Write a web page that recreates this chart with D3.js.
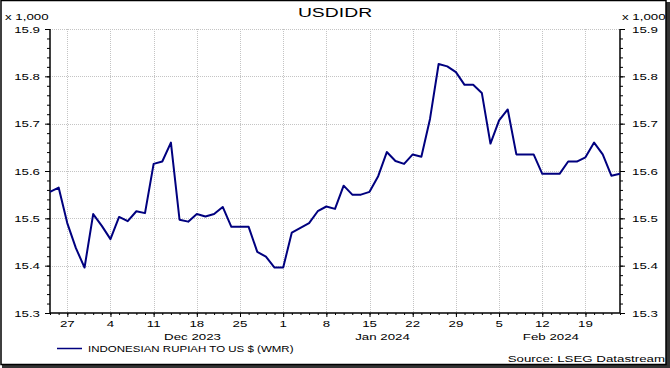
<!DOCTYPE html>
<html>
<head>
<meta charset="utf-8">
<script src="https://cdn.jsdelivr.net/npm/d3@7"></script>
<style>
  html, body { margin: 0; padding: 0; background: #fff; }
  svg { display: block; }
  text { font-family: "Liberation Sans", Arial, sans-serif; fill: #000; }
</style>
</head>
<body>
<svg id="chart" width="670" height="368"></svg>
<script>
// ---- data ----
const title = "USDIDR";
const seriesName = "INDONESIAN RUPIAH TO US $ (WMR)";
const sourceText = "Source: LSEG Datastream";
const unitLabel = "x 1,000";
const startDate = "2023-11-23";
const endDate = "2024-02-23";
// daily (weekday) USD/IDR rates
const values = [
  15556, 15565, 15490, 15437, 15396, 15509, 15484,
  15456, 15503, 15494, 15515, 15511,
  15615, 15620, 15660, 15497, 15493,
  15509, 15504, 15509, 15524, 15482,
  15482, 15482, 15429, 15419, 15396,
  15396, 15470, 15480, 15490, 15515,
  15525, 15520, 15569, 15550, 15550,
  15556, 15589, 15640, 15621, 15615,
  15635, 15630, 15710, 15826, 15821,
  15809, 15782, 15782, 15765, 15658,
  15707, 15730, 15635, 15635, 15635,
  15594, 15594, 15594, 15620, 15620,
  15629, 15660, 15635, 15590, 15594
];
const yTicks = [15300, 15400, 15500, 15600, 15700, 15800, 15900];
const yDomain = [15300, 15900];

// ---- setup ----
const parse = d3.timeParse("%Y-%m-%d");
const dates = d3.timeDay.range(parse(startDate), d3.timeDay.offset(parse(endDate), 1))
  .filter(d => d.getDay() !== 0 && d.getDay() !== 6);
const data = dates.map((d, i) => ({date: d, value: values[i]}));

const svg = d3.select("#chart");
const W = 670, H = 368;
const L = 50, R = 620, T = 29, B = 313;
const SX = 1.4;

const x = d3.scaleLinear().domain([0, data.length - 1]).range([L, R]);
const y = d3.scaleLinear().domain(yDomain).range([B, T]);

function stretchedText(g, str, px, py, anchor, size, sx) {
  const t = g.append("g").attr("transform", `translate(${px},${py}) scale(${sx},1)`)
    .append("text")
    .attr("text-anchor", anchor)
    .attr("font-size", size)
    .text(str);
  return t;
}

// frame
svg.append("rect").attr("x", 0).attr("y", 0).attr("width", W).attr("height", H).attr("fill", "#fff");
svg.append("rect").attr("x", 666).attr("y", 2).attr("width", 4).attr("height", 366).attr("fill", "#333");
svg.append("rect").attr("x", 2).attr("y", 364).attr("width", 668).attr("height", 4).attr("fill", "#333");
svg.append("rect").attr("x", 1).attr("y", 0.5).attr("width", 665).attr("height", 364)
  .attr("fill", "none").attr("stroke", "#000").attr("stroke-width", 1.5);

// gridlines
const grid = svg.append("g").attr("stroke", "#c4c4c4").attr("stroke-width", 1).attr("stroke-dasharray", "1,1");
yTicks.filter(v => v !== yDomain[0]).forEach(v => {
  grid.append("line").attr("x1", L).attr("x2", R).attr("y1", Math.round(y(v)) + 0.5).attr("y2", Math.round(y(v)) + 0.5);
});
const mondays = data.map((d, i) => ({d, i})).filter(o => o.d.date.getDay() === 1);
mondays.forEach(o => {
  grid.append("line").attr("x1", Math.round(x(o.i)) + 0.5).attr("x2", Math.round(x(o.i)) + 0.5).attr("y1", T).attr("y2", B);
});

// y axes
const yMinor = d3.range(yDomain[0], yDomain[1] + 1, 20);
const axL = d3.axisLeft(y).tickValues(yMinor).tickSize(3).tickFormat("");
const axLMaj = d3.axisLeft(y).tickValues(yTicks).tickSize(5).tickFormat("");
const axR = d3.axisRight(y).tickValues(yMinor).tickSize(3).tickFormat("");
const axRMaj = d3.axisRight(y).tickValues(yTicks).tickSize(5).tickFormat("");
[[axL, L], [axLMaj, L], [axR, R], [axRMaj, R]].forEach(([a, px]) => {
  const g = svg.append("g").attr("transform", `translate(${px},0)`).call(a);
  g.select(".domain").attr("stroke", "#000").attr("d", `M0,${T}V${B}`);
  g.selectAll("line").attr("stroke", "#000");
});
yTicks.forEach(v => {
  stretchedText(svg, d3.format(".1f")(v / 1000), 40, y(v) + 3.5, "end", 9.5, SX);
  stretchedText(svg, d3.format(".1f")(v / 1000), 632, y(v) + 3.5, "start", 9.5, SX);
});
stretchedText(svg, unitLabel, 5, 20, "start", 9.5, SX);
stretchedText(svg, unitLabel, 622, 20, "start", 9.5, SX);

// x axis
const axX = d3.axisBottom(x).tickValues(d3.range(data.length)).tickSize(2).tickFormat("");
const axXMaj = d3.axisBottom(x).tickValues(mondays.map(o => o.i)).tickSize(4).tickFormat("");
[axX, axXMaj].forEach(a => {
  const g = svg.append("g").attr("transform", `translate(0,${B})`).call(a);
  g.select(".domain").attr("stroke", "#000").attr("d", `M${L},0H${R}`);
  g.selectAll("line").attr("stroke", "#000");
});
mondays.forEach(o => {
  stretchedText(svg, d3.timeFormat("%-d")(o.d.date), x(o.i), 327, "middle", 9.5, SX);
});
// month labels
const months = d3.groups(data.map((d, i) => ({d, i})), o => d3.timeFormat("%Y-%m")(o.d.date));
months.forEach(([key, arr], mi) => {
  const first = arr[0];
  if (first.d.date.getDate() > 7) return; // partial month at start
  const startX = x(first.i);
  const endX = mi < months.length - 1 ? x(months[mi + 1][1][0].i) : R;
  stretchedText(svg, d3.timeFormat("%b %Y")(first.d.date), (startX + endX) / 2, 340, "middle", 9.5, SX);
});

// line
const line = d3.line().x((d, i) => x(i)).y(d => y(d.value));
svg.append("path").datum(data).attr("d", line)
  .attr("fill", "none").attr("stroke", "#00007f").attr("stroke-width", 2)
  .attr("stroke-linejoin", "round");

// title
stretchedText(svg, title, 335, 16.5, "middle", 12.5, 1.55);

// legend
svg.append("line").attr("x1", 57).attr("x2", 82).attr("y1", 348.5).attr("y2", 348.5)
  .attr("stroke", "#00007f").attr("stroke-width", 1.5);
stretchedText(svg, seriesName, 88, 352, "start", 9, 1.28);

// source
stretchedText(svg, sourceText, 665, 362, "end", 9.5, SX);
</script>
</body>
</html>
